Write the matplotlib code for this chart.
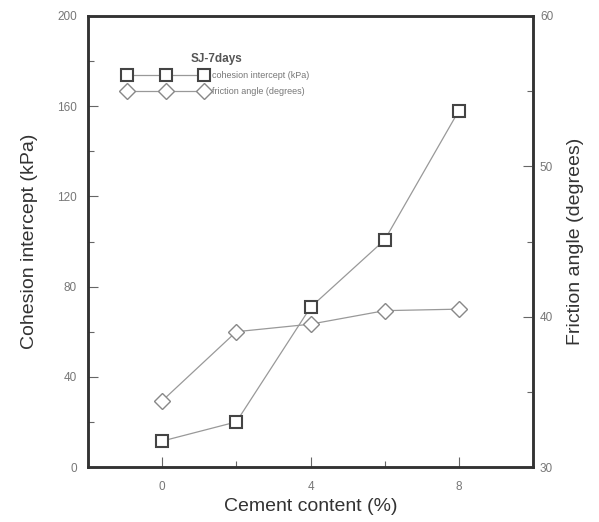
import matplotlib.pyplot as plt
from matplotlib.ticker import MultipleLocator

cement = [0, 2, 4, 6, 8]
cohesion = [11.5, 20, 70.8, 100.7, 158]
friction = [34.4, 39.0, 39.5, 40.4, 40.5]

plt.rcParams["font.family"] = ["Liberation Sans", "DejaVu Sans"]
plt.rcParams["legend.numpoints"] = 3

fig = plt.figure(figsize=(5.99, 5.22), dpi=100)
ax = fig.add_axes([88 / 599, 55 / 522, 445 / 599, 451 / 522])
ax2 = ax.twinx()

l1, = ax.plot(cement, cohesion, color="#999999", lw=0.9, marker="s", ms=9,
              mfc="white", mec="#444444", mew=1.5, label="cohesion intercept (kPa)")
l2, = ax2.plot(cement, friction, color="#999999", lw=0.9, marker="D", ms=8,
               mfc="white", mec="#888888", mew=1.0, label="friction angle (degrees)")

ax.set_xlim(-2, 10)
ax.set_ylim(0, 200)
ax2.set_ylim(30, 60)
ax.set_xticks([0, 4, 8])
ax.xaxis.set_minor_locator(MultipleLocator(2))
ax.set_yticks([0, 40, 80, 120, 160, 200])
ax.yaxis.set_minor_locator(MultipleLocator(20))
ax2.set_yticks([30, 40, 50, 60])
ax2.yaxis.set_minor_locator(MultipleLocator(5))

for a in (ax, ax2):
    for s in a.spines.values():
        s.set_linewidth(1.8)
        s.set_color("#333333")
    a.tick_params(which="major", direction="in", length=7, width=0.8, color="#666666",
                  labelsize=8.5, labelcolor="#777777", pad=8)
    a.tick_params(which="minor", direction="in", length=4, width=0.8, color="#666666")
ax.tick_params(top=False, which="both")
ax.tick_params(axis="x", which="both", pad=10)
ax2.tick_params(which="both", pad=5)

ax.set_xlabel("Cement content (%)", fontsize=14, color="#333333", labelpad=4)
ax.set_ylabel("Cohesion intercept (kPa)", fontsize=14, color="#333333", labelpad=14)
ax2.set_ylabel("Friction angle (degrees)", fontsize=14, color="#333333", labelpad=10)

leg = ax.legend(handles=[l1, l2], loc="upper left", bbox_to_anchor=(0.065, 0.935),
                frameon=False, fontsize=6.5, title="SJ-7days", handlelength=9.2,
                labelspacing=0.75, handletextpad=0.5, borderpad=0.3)
leg.get_title().set_fontsize(8.5)
leg.get_title().set_fontweight("bold")
leg.get_title().set_color("#555555")
for t in leg.get_texts():
    t.set_color("#777777")

fig.savefig("out.png", dpi=100)
